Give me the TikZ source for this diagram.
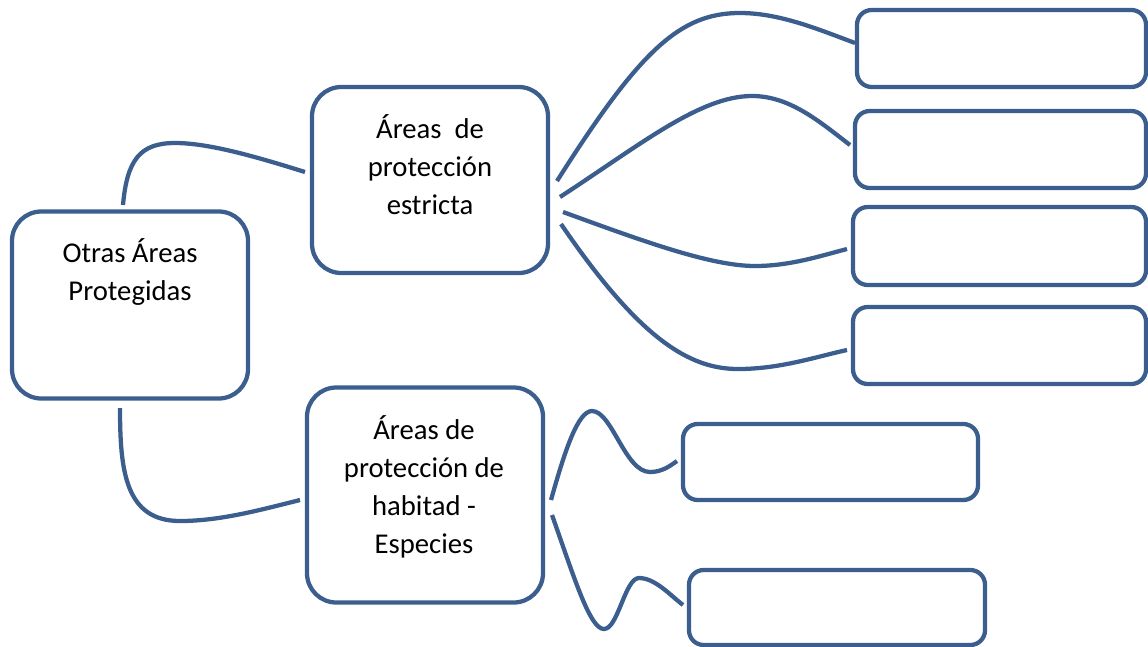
\documentclass[tikz,border=0pt]{standalone}
\usepackage{fontspec}
\setmainfont{Carlito}
\definecolor{edge}{HTML}{3B5E8E}
\begin{document}
\begin{tikzpicture}[x=0.75pt,y=-0.75pt,
  box/.style={draw=edge,line width=3.2pt,rounded corners=22pt,inner sep=0pt},
  sbox/.style={draw=edge,line width=3.2pt,rounded corners=11pt,inner sep=0pt},
  conn/.style={draw=edge,line width=3.2pt},
  lbl/.style={align=center,inner sep=0pt,font=\fontsize{21.5}{28.5}\selectfont}]
\useasboundingbox (0,0) rectangle (1148,646);
\clip (0,0) rectangle (1148,646);
% boxes
\node[box,minimum width={236*0.75pt},minimum height={187*0.75pt}] (main) at (130,305) {};
\node[box,minimum width={236*0.75pt},minimum height={186*0.75pt}] (strict) at (430,180) {};
\node[box,minimum width={236*0.75pt},minimum height={215*0.75pt}] (hab) at (425,495) {};
\node[sbox,minimum width={289*0.75pt},minimum height={77*0.75pt}] (b1) at (1001.5,48.5) {};
\node[sbox,minimum width={291*0.75pt},minimum height={77*0.75pt}] (b2) at (1000.5,149.5) {};
\node[sbox,minimum width={293*0.75pt},minimum height={78*0.75pt}] (b3) at (999.5,246) {};
\node[sbox,minimum width={293*0.75pt},minimum height={77*0.75pt}] (b4) at (999.5,345.5) {};
\node[sbox,minimum width={295*0.75pt},minimum height={76*0.75pt}] (b5) at (830.5,462) {};
\node[sbox,minimum width={296*0.75pt},minimum height={75*0.75pt}] (b6) at (837,607.5) {};
% labels
\node[lbl] (tmain) at (130,272) {Otras Áreas\\Protegidas};
\node[lbl] (tstrict) at (430,165) {Áreas~~de\\protección\\estricta};
\node[lbl] (thab) at (424,487) {Áreas de\\protección de\\habitad -\\Especies};
% connector end points
\coordinate (m1) at (123,205);
\coordinate (m2) at (120,408);
\coordinate (s0) at (305,172);
\coordinate (h0) at (300,500);
\coordinate (s1) at (557,181);
\coordinate (s2) at (560,197);
\coordinate (s3) at (563,212);
\coordinate (s4) at (561,224);
\coordinate (e1) at (855,43);
\coordinate (e2) at (850,145);
\coordinate (e3) at (847,249);
\coordinate (e4) at (847,350);
\coordinate (h1) at (551,500);
\coordinate (h2) at (552,515);
\coordinate (e5) at (677,461);
\coordinate (e6) at (683,605);
% connectors
\path[conn] (m1) .. controls (127,160) and (140,143) .. (175,143) .. controls (210,143) and (260,158) .. (s0);
\path[conn] (m2) .. controls (120,470) and (125,521) .. (180,521) .. controls (220,521) and (260,510) .. (h0);
\path[conn] (s1) .. controls (640,50) and (680,13) .. (740,13) .. controls (780,13) and (820,30) .. (e1);
\path[conn] (s2) .. controls (640,145) and (700,96) .. (752,96) .. controls (790,96) and (820,122) .. (e2);
\path[conn] (s3) .. controls (640,240) and (710,266) .. (755,266) .. controls (790,266) and (820,256) .. (e3);
\path[conn] (s4) .. controls (640,340) and (690,369) .. (738,369) .. controls (780,369) and (815,357) .. (e4);
\path[conn] (h1) .. controls (565,450) and (578,411) .. (592,411) .. controls (612,411) and (625,472) .. (650,472) .. controls (662,472) and (670,466) .. (e5);
\path[conn] (h2) .. controls (575,580) and (590,629) .. (604,629) .. controls (618,629) and (625,578) .. (639,578) .. controls (655,578) and (670,595) .. (e6);
\end{tikzpicture}
\end{document}
